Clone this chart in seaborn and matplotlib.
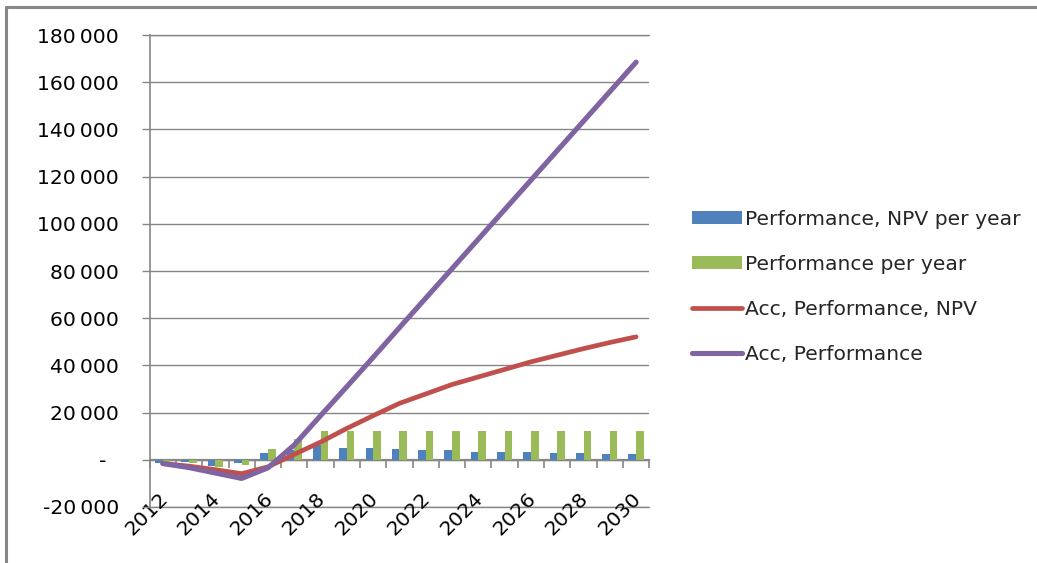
import numpy as np
import pandas as pd
import matplotlib
matplotlib.use("Agg")
import matplotlib.pyplot as plt
from matplotlib.lines import Line2D
from matplotlib.ticker import FuncFormatter, FixedLocator
from matplotlib.transforms import ScaledTranslation
import seaborn as sns

# ---- data -------------------------------------------------------------
years = [str(y) for y in range(2012, 2031)]

npv_per_year = [-1300, -1000, -2700, -1300, 3000, 4000, 6100, 5200, 4800,
                4400, 4000, 4000, 3200, 3200, 3200, 2800, 2800, 2400, 2400]
perf_per_year = [-1300, -1500, -3100, -2300, 4400, 8600, 12000, 12000, 12400,
                 12400, 12400, 12400, 12400, 12400, 12400, 12400, 12400, 12400, 12400]
acc_npv = [-1600, -2700, -4200, -5900, -3000, 2300, 7500, 13300, 18700,
           23900, 27900, 31900, 35100, 38300, 41500, 44300, 47100, 49700, 52100]
acc_perf = [-1600, -3300, -5600, -7900, -3400, 6300, 18700, 31000, 43400,
            56000, 68500, 81000, 93500, 106000, 118500, 131000, 143500, 156000, 168500]

series_names = ["Performance, NPV per year", "Performance per year",
                "Acc, Performance, NPV", "Acc, Performance"]
colors = ["#4F81BD", "#9BBB59", "#C0504D", "#8064A2"]

y_ticks = list(range(-20000, 180001, 20000))

# ---- figure -----------------------------------------------------------
sns.set_style("white")
plt.rcParams["font.family"] = ["DejaVu Sans"]
FS = 14.6
GRID = "#868686"

fig = plt.figure(figsize=(10.37, 5.63), dpi=100)
ax = fig.add_axes([0.1443, 0.0995, 0.4818, 0.8383])

bars = pd.DataFrame({
    "Year": years * 2,
    "Value": npv_per_year + perf_per_year,
    "Series": [series_names[0]] * len(years) + [series_names[1]] * len(years),
})
sns.barplot(data=bars, x="Year", y="Value", hue="Series",
            hue_order=series_names[:2], palette=colors[:2],
            width=0.58, gap=0, saturation=1, linewidth=0, edgecolor="none",
            ax=ax, zorder=3)

pos = np.arange(len(years))
sns.lineplot(x=pos, y=acc_npv, color=colors[2], linewidth=3.4,
             label=series_names[2], ax=ax, zorder=4)
sns.lineplot(x=pos, y=acc_perf, color=colors[3], linewidth=3.7,
             label=series_names[3], ax=ax, zorder=5)

# ---- axes styling -----------------------------------------------------
ax.set_xlim(-0.5, len(years) - 0.5)
ax.set_ylim(-20000, 180000)
ax.set_xlabel("")
ax.set_ylabel("")

for side in ("top", "right"):
    ax.spines[side].set_visible(False)
ax.spines["left"].set_color(GRID)
ax.spines["left"].set_linewidth(1.2)
ax.spines["bottom"].set_position(("data", 0))
ax.spines["bottom"].set_color(GRID)
ax.spines["bottom"].set_linewidth(1.6)
ax.spines["bottom"].set_zorder(2)

# y axis: grid, ticks and number format
ax.yaxis.set_major_locator(FixedLocator(y_ticks))


def fmt(v, _):
    if v == 0:
        return "-  "
    return f"{v:,.0f}".replace(",", "\u2009")


ax.yaxis.set_major_formatter(FuncFormatter(fmt))
ax.grid(axis="y", color=GRID, linewidth=1.0, zorder=0)
ax.axhline(-20000, color=GRID, linewidth=1.0, clip_on=False, zorder=0)
ax.axhline(180000, color=GRID, linewidth=1.0, clip_on=False, zorder=0)
ax.set_axisbelow(True)
ax.tick_params(axis="y", direction="out", length=6, width=1, color=GRID,
               labelsize=FS, pad=16, left=True, labelcolor="black")

# x axis: tick marks at category boundaries, labels every other year
ax.set_xticks(np.arange(-0.5, len(years), 1.0))
ax.set_xticklabels([])
ax.tick_params(axis="x", which="major", direction="out", length=6, width=1.2,
               color=GRID, bottom=True)
label_pos = pos[::2]
ax.set_xticks(label_pos, [years[i] for i in label_pos], minor=True)
ax.tick_params(axis="x", which="minor", length=0, labelsize=FS, pad=21,
               labelcolor="black")
shift = ScaledTranslation(-3.5 / 72, 0, fig.dpi_scale_trans)
for lab in ax.get_xticklabels(minor=True):
    lab.set_rotation(45)
    lab.set_ha("right")
    lab.set_va("top")
    lab.set_rotation_mode("anchor")
    lab.set_transform(lab.get_transform() + shift)

# ---- legend -----------------------------------------------------------
handles, labels = ax.get_legend_handles_labels()
order = [labels.index(n) for n in series_names]
ax.legend([handles[i] for i in order], [labels[i] for i in order],
          loc="center left", bbox_to_anchor=(0.667, 0.491),
          bbox_transform=fig.transFigure, frameon=False, fontsize=FS,
          handlelength=2.46, handleheight=0.6, handletextpad=0.15,
          labelspacing=1.28, borderpad=0, borderaxespad=0)

# outer frame (top and left edges)
fig.add_artist(Line2D([0.0058, 1.0], [0.987, 0.987], transform=fig.transFigure,
                      color="#878787", linewidth=2.2))
fig.add_artist(Line2D([0.0058, 0.0058], [0.0, 0.987], transform=fig.transFigure,
                      color="#878787", linewidth=2.2))

fig.savefig("out.png", dpi=100)
